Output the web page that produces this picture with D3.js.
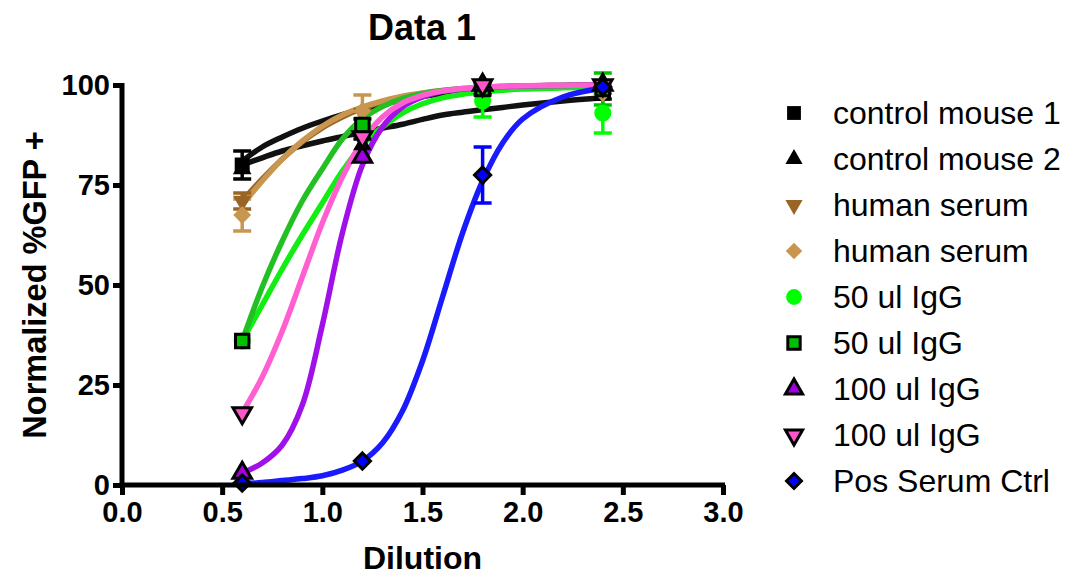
<!DOCTYPE html>
<html>
<head>
<meta charset="utf-8">
<script src="https://cdn.jsdelivr.net/npm/d3@7"></script>
<style>
  body { margin: 0; background: #fff; }
  text { font-family: "Liberation Sans", Arial, sans-serif; }
</style>
</head>
<body>
<div id="chart"></div>
<script>
// measured points (x = dilution)
const doseX = [0.6, 1.2, 1.8, 2.4];
const seriesNames = ["control mouse 1", "control mouse 2", "human serum", "human serum",
    "50 ul IgG", "50 ul IgG", "100 ul IgG", "100 ul IgG", "Pos Serum Ctrl"];

const cm1Y = [80, 89, 99, 98];
const cm1Err = [3.5, 2.5, 1.5, 1.5];
const cm2Y = [79, 85, 99, 99];
const cm2Err = [0, 0, 0, 0];
const hsTriY = [71, 93, 100, 99];
const hsTriErr = [2, 0, 0, 0];
const hsDiaY = [67.5, 93.5, 99, 98];
const hsDiaErr = [4, 4, 0, 0];
const igg50CircY = [36, 90, 96, 93];
const igg50CircErr = [0, 0, 4, 5];
const igg50SqY = [36, 90, 99, 99];
const igg50SqErr = [0, 0, 0, 4];
const igg100UpY = [3, 82, 100, 100];
const igg100UpErr = [0, 0, 0, 0];
const igg100DnY = [18, 87, 100, 100];
const igg100DnErr = [0, 0, 0, 0];
const posY = [0.5, 6, 77.5, 99.5];
const posErr = [0, 0, 7, 0];

// fitted curves at these dilutions
const fitX = [0.6, 0.7, 0.8, 0.9, 1.0, 1.1, 1.2, 1.3, 1.4, 1.5, 1.6, 1.7, 1.8, 1.9, 2.0, 2.2, 2.4];
const cm1Fit = [81, 84.5, 87, 89.2, 91, 92.6, 94, 95.2, 96.3, 97.1, 97.8, 98.3, 98.7, 99, 99.2, 99.5, 99.7];
const cm2Fit = [80, 81.8, 83.5, 84.8, 86, 87.1, 88.2, 89.2, 90.2, 91.4, 92.5, 93.2, 93.8, 94.4, 95, 96, 96.8];
const hsTriFit = [71, 76.5, 81.5, 85.8, 89.3, 92, 94.2, 95.8, 97, 97.9, 98.5, 99, 99.3, 99.5, 99.7, 99.9, 100];
const hsDiaFit = [70, 76, 81.5, 86, 89.7, 92.5, 94.5, 96, 97.2, 98, 98.6, 99, 99.3, 99.5, 99.7, 99.9, 100];
const igg50CircFit = [36, 45, 54, 62.5, 70.5, 78.5, 85, 89.5, 93, 95.3, 96.8, 97.7, 98.3, 98.7, 99, 99.3, 99.5];
const igg50SqFit = [36, 49.5, 61, 71, 79, 86.5, 91.5, 94.6, 96.6, 97.8, 98.6, 99.1, 99.4, 99.6, 99.7, 99.9, 100];
const igg100UpFit = [3, 5.5, 10, 20, 40, 63, 80, 89.5, 94.5, 97, 98.4, 99, 99.4, 99.6, 99.8, 99.9, 100];
const igg100DnFit = [18, 27, 38.5, 52, 65.5, 77, 86, 92, 95.5, 97.4, 98.5, 99.1, 99.5, 99.7, 99.8, 99.9, 100];
const posFit = [0.3, 0.6, 1.1, 1.6, 2.3, 3.7, 6, 10.5, 18.5, 31, 47, 63, 76, 85.5, 91.5, 97, 99.2];

const xTicks = [0.0, 0.5, 1.0, 1.5, 2.0, 2.5, 3.0];
const yTicks = [0, 25, 50, 75, 100];

// styles per series
const diamond = { draw(ctx, size) { const r = Math.sqrt(size / 2); ctx.moveTo(0, -r); ctx.lineTo(r, 0); ctx.lineTo(0, r); ctx.lineTo(-r, 0); ctx.closePath(); } };
const triDown = { draw(ctx, size) { const s = Math.sqrt(size * 4 / Math.sqrt(3)); const h = s * Math.sqrt(3) / 2; ctx.moveTo(-s / 2, -h / 3); ctx.lineTo(s / 2, -h / 3); ctx.lineTo(0, 2 * h / 3); ctx.closePath(); } };
const styles = [
    { sym: d3.symbolSquare, size: 225, fill: "#000", stroke: "none", line: "#111", err: "#000" },
    { sym: d3.symbolTriangle, size: 150, fill: "#000", stroke: "none", line: "#111", err: "#000" },
    { sym: triDown, size: 150, fill: "#9a6524", stroke: "none", line: "#9a6524", err: "#9a6524" },
    { sym: diamond, size: 160, fill: "#c8964f", stroke: "none", line: "#c8964f", err: "#c8964f" },
    { sym: d3.symbolCircle, size: 230, fill: "#00ff00", stroke: "none", line: "#11ee11", err: "#00ff00" },
    { sym: d3.symbolSquare, size: 180, fill: "#00c000", stroke: "#000", line: "#22c022", err: "#00c000" },
    { sym: d3.symbolTriangle, size: 150, fill: "#a000e0", stroke: "#000", line: "#a010e8", err: "#a000e0" },
    { sym: triDown, size: 150, fill: "#ff55cc", stroke: "#000", line: "#ff5fd0", err: "#ff55cc" },
    { sym: diamond, size: 130, fill: "#0000ff", stroke: "#000", line: "#1a1aff", err: "#0000ff" }
];

const pointsY = [cm1Y, cm2Y, hsTriY, hsDiaY, igg50CircY, igg50SqY, igg100UpY, igg100DnY, posY];
const pointsErr = [cm1Err, cm2Err, hsTriErr, hsDiaErr, igg50CircErr, igg50SqErr, igg100UpErr, igg100DnErr, posErr];
const fits = [cm1Fit, cm2Fit, hsTriFit, hsDiaFit, igg50CircFit, igg50SqFit, igg100UpFit, igg100DnFit, posFit];

const series = seriesNames.map((name, i) => ({
    name,
    style: styles[i],
    points: doseX.map((x, j) => ({ x, y: pointsY[i][j], e: pointsErr[i][j] })),
    fit: fitX.map((x, j) => ({ x, y: fits[i][j] }))
}));

const W = 1067, H = 577;
const margin = { left: 122, top: 85, right: 344, bottom: 92 };

const svg = d3.select("#chart").append("svg")
    .attr("width", W)
    .attr("height", H);

const x = d3.scaleLinear().domain([0, 3]).range([margin.left, W - margin.right]);
const y = d3.scaleLinear().domain([0, 100]).range([H - margin.bottom, margin.top]);

// curves
const line = d3.line()
    .x(d => x(d.x))
    .y(d => y(d.y))
    .curve(d3.curveCatmullRom.alpha(0.5));

svg.append("g")
    .selectAll("path")
    .data(series)
    .join("path")
    .attr("d", d => line(d.fit))
    .attr("fill", "none")
    .attr("stroke", d => d.style.line)
    .attr("stroke-width", 5.5);

// error bars
const capW = 9;
series.forEach(s => {
    const g = svg.append("g")
        .attr("stroke", s.style.err)
        .attr("stroke-width", 3.5);
    s.points.filter(p => p.e > 0).forEach(p => {
        g.append("line").attr("x1", x(p.x)).attr("x2", x(p.x)).attr("y1", y(p.y - p.e)).attr("y2", y(p.y + p.e));
        g.append("line").attr("x1", x(p.x) - capW).attr("x2", x(p.x) + capW).attr("y1", y(p.y + p.e)).attr("y2", y(p.y + p.e));
        g.append("line").attr("x1", x(p.x) - capW).attr("x2", x(p.x) + capW).attr("y1", y(p.y - p.e)).attr("y2", y(p.y - p.e));
    });
});

// markers
series.forEach(s => {
    svg.append("g")
        .selectAll("path")
        .data(s.points)
        .join("path")
        .attr("transform", p => `translate(${x(p.x)},${y(p.y)})`)
        .attr("d", d3.symbol().type(s.style.sym).size(s.style.size))
        .attr("fill", s.style.fill)
        .attr("stroke", s.style.stroke)
        .attr("stroke-width", 3);
});

// axes
const xAxis = svg.append("g")
    .attr("transform", `translate(0,${y(0)})`)
    .call(d3.axisBottom(x).tickValues(xTicks).tickFormat(d3.format(".1f")).tickSize(10).tickSizeOuter(0));
const yAxis = svg.append("g")
    .attr("transform", `translate(${x(0)},0)`)
    .call(d3.axisLeft(y).tickValues(yTicks).tickSize(9).tickSizeOuter(0));

[xAxis, yAxis].forEach(a => {
    a.select(".domain").attr("stroke", "#000").attr("stroke-width", 5);
    a.selectAll(".tick line").attr("stroke", "#000").attr("stroke-width", 5);
    a.selectAll(".tick text")
        .attr("fill", "#000")
        .style("font-size", "29px")
        .style("font-weight", "bold")
        .style("font-family", "'Liberation Sans', Arial, sans-serif");
});
xAxis.select(".domain").attr("d", `M${x(0) - 2},0H${x(3) + 2}`);
yAxis.select(".domain").attr("d", `M0,${y(100) - 2}V${y(0) + 2}`);
xAxis.selectAll(".tick text").attr("y", 16);
yAxis.selectAll(".tick text").attr("x", -12);

// titles
svg.append("text")
    .attr("x", 422).attr("y", 40)
    .attr("text-anchor", "middle")
    .style("font-size", "36px").style("font-weight", "bold")
    .text("Data 1");
svg.append("text")
    .attr("x", x(1.5)).attr("y", 569)
    .attr("text-anchor", "middle")
    .style("font-size", "32px").style("font-weight", "bold")
    .text("Dilution");
svg.append("text")
    .attr("transform", `translate(46,${y(50)}) rotate(-90)`)
    .attr("text-anchor", "middle")
    .style("font-size", "32.5px").style("font-weight", "bold")
    .text("Normalized %GFP +");

// legend
const legend = svg.append("g")
    .selectAll("g")
    .data(series)
    .join("g")
    .attr("transform", (d, i) => `translate(794,${113 + i * 46})`);
legend.append("path")
    .attr("d", d => d3.symbol().type(d.style.sym).size(d.style.size * 0.85)())
    .attr("fill", d => d.style.fill)
    .attr("stroke", d => d.style.stroke)
    .attr("stroke-width", 3);
legend.append("text")
    .attr("x", 39).attr("y", 11)
    .style("font-size", "32px")
    .text(d => d.name);
</script>
</body>
</html>
